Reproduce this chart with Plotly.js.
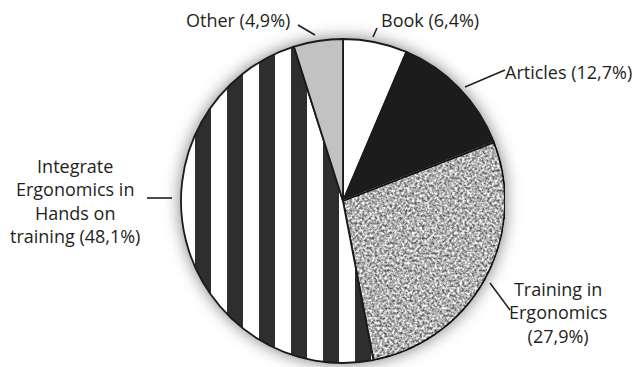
<!DOCTYPE html>
<html>
<head>
<meta charset="utf-8">
<script src="https://cdn.plot.ly/plotly-3.0.1.min.js"></script>
<style>
  html, body { margin: 0; padding: 0; background: #fff; }
  #chart { width: 637px; height: 367px; }
</style>
</head>
<body>
<!-- grain texture used for the "Training in Ergonomics" slice -->
<svg width="0" height="0" style="position:absolute">
  <defs>
    <filter id="grain" x="0" y="0" width="1" height="1" color-interpolation-filters="sRGB">
      <feTurbulence type="fractalNoise" baseFrequency="0.4" numOctaves="2" seed="7" result="noise"/>
      <feColorMatrix in="noise" type="matrix" result="gray"
        values="1.25 0 0 0 0.07  1.25 0 0 0 0.07  1.25 0 0 0 0.07  0 0 0 0 1"/>
      <feGaussianBlur in="gray" stdDeviation="0.5" result="soft"/>
      <feBlend in="SourceGraphic" in2="soft" mode="multiply" result="mix"/>
      <feComposite in="mix" in2="SourceGraphic" operator="in"/>
    </filter>
  </defs>
</svg>
<div id="chart"></div>
<script>
// Sources of ergonomics knowledge, share of answers (%)
const categories = ['Book', 'Articles', 'Training in Ergonomics',
                    'Integrate Ergonomics in Hands on training', 'Other'];
const shares = [6.4, 12.7, 27.9, 48.1, 4.9];
const labelTexts = ['Book (6,4%)', 'Articles (12,7%)',
                    'Training in<br>Ergonomics<br>(27,9%)',
                    'Integrate<br>Ergonomics in<br>Hands on<br>training (48,1%)',
                    'Other (4,9%)'];

const W = 637, H = 367;
const px = v => v / W;          // pixel -> paper x
const py = v => 1 - v / H;      // pixel -> paper y

// pie placement (centre and radius in pixels)
const cx = 343, cy = 201, R = 162;

// label placement: text centre and leader line end points (pixels)
const labelPos = [
  {tx: 430, ty: 20,  line: [373, 37, 377, 28]},
  {tx: 568, ty: 72,  line: [465, 87, 505, 70]},
  {tx: 558, ty: 312, line: [490, 283, 510, 310]},
  {tx: 75,  ty: 201, line: [147, 198, 172, 198]},
  {tx: 238, ty: 20,  line: [298, 25, 315, 35]}
];

const trace = {
  type: 'pie',
  labels: categories,
  values: shares,
  sort: false,
  direction: 'clockwise',
  rotation: 0,
  textinfo: 'none',
  hoverinfo: 'skip',
  showlegend: false,
  domain: {x: [px(cx - R), px(cx + R)], y: [py(cy + R), py(cy - R)]},
  marker: {
    colors: ['#ffffff', '#1c1c1c', '#ffffff', '#ffffff', '#c2c2c2'],
    line: {color: '#1a1a1a', width: 1.8},
    pattern: {
      shape: ['', '', '', '|', ''],
      fgcolor: ['#1c1c1c', '#1c1c1c', '#1c1c1c', '#2e2e2e', '#1c1c1c'],
      bgcolor: ['#ffffff', '#1c1c1c', '#ffffff', '#ffffff', '#c2c2c2'],
      size: [8, 8, 8, 32, 8],
      solidity: [0.3, 0.3, 0.3, 0.5, 0.3],
      fillmode: 'replace'
    }
  }
};

const font = {family: 'Open Sans, sans-serif', size: 18, color: '#231f20'};

const annotations = labelTexts.map((t, i) => ({
  text: t, xref: 'paper', yref: 'paper',
  x: px(labelPos[i].tx), y: py(labelPos[i].ty),
  xanchor: 'center', yanchor: 'middle', align: 'center',
  showarrow: false, font: font
}));

const shapes = labelPos.map(p => ({
  type: 'line', xref: 'paper', yref: 'paper',
  x0: px(p.line[0]), y0: py(p.line[1]), x1: px(p.line[2]), y1: py(p.line[3]),
  line: {color: '#231f20', width: 1.6}
}));

const layout = {
  width: W, height: H,
  margin: {l: 0, r: 0, t: 0, b: 0},
  paper_bgcolor: '#ffffff',
  annotations: annotations,
  shapes: shapes
};

Plotly.newPlot('chart', [trace], layout, {staticPlot: true, displayModeBar: false}).then(gd => {
  // soft halo around the pie and grain on the training slice
  const pieLayer = gd.querySelector('.pielayer');
  if (pieLayer) pieLayer.style.filter = 'drop-shadow(0 0 8px rgba(0,0,0,0.5))';
  const slices = gd.querySelectorAll('.pielayer g.slice path.surface');
  if (slices[2]) slices[2].style.filter = 'url(#grain)';
  // shift the stripe phase a little to the left
  gd.querySelectorAll('pattern').forEach(p => p.setAttribute('patternTransform', 'translate(-5,0)'));
});
</script>
</body>
</html>
